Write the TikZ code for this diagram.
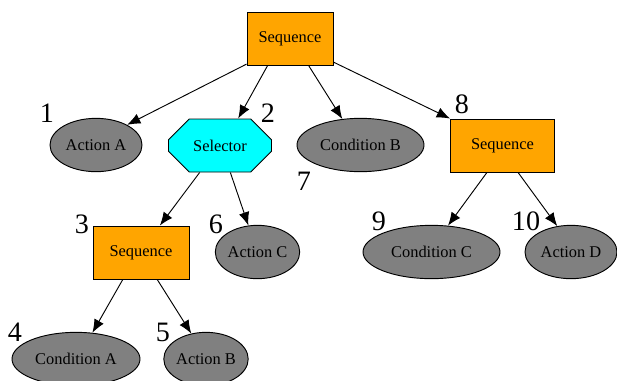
\documentclass[tikz,border=0pt]{standalone}
\usepackage{fontspec}
\setmainfont{Liberation Serif}
\usepackage{tikz}
\usetikzlibrary{arrows.meta, shapes.geometric, shapes.misc}

\definecolor{seqorange}{HTML}{FFA500}
\definecolor{selcyan}{HTML}{00FFFF}
\definecolor{leafgray}{HTML}{808080}

\tikzset{
    seqbox/.style={draw, fill=seqorange, rectangle, inner sep=0pt,
        minimum height=1.59cm, font=\fontsize{14}{16}\selectfont},
    selbox/.style={draw, fill=selcyan, chamfered rectangle, inner sep=0pt,
        chamfered rectangle xsep=0.9cm, chamfered rectangle ysep=0.45cm,
        minimum width=3.09cm, minimum height=1.59cm,
        font=\fontsize{14}{16}\selectfont},
    leaf/.style={draw, fill=leafgray, ellipse, inner sep=0pt,
        minimum height=1.6cm, font=\fontsize{14}{16}\selectfont},
    num/.style={font=\fontsize{24}{26}\selectfont},
}

\begin{document}
\begin{tikzpicture}[>={Latex[length=4mm,width=3.2mm]}, x=0.03cm, y=-0.03cm, line width=0.8pt]
    \useasboundingbox (0,0) rectangle (617,380);

    % 1. Các nút
    \node[seqbox, minimum width=2.58cm] (root) at (290,39) {Sequence};
    \node[leaf, minimum width=2.76cm] (actA) at (96,145) {Action A};
    \node[selbox] (sel) at (220,145.5) {Selector};
    \node[leaf, minimum width=3.81cm] (condB) at (360.5,145) {Condition B};
    \node[seqbox, minimum width=3.12cm] (seqR) at (502.5,145.5) {Sequence};
    \node[seqbox, minimum width=2.88cm] (seqL) at (141,252.5) {Sequence};
    \node[leaf, minimum width=2.49cm] (actC) at (257.5,252) {Action C};
    \node[leaf, minimum width=4.11cm] (condC) at (431.5,252) {Condition C};
    \node[leaf, minimum width=2.76cm] (actD) at (571,252) {Action D};
    \node[leaf, minimum width=3.84cm] (condA) at (76,359) {Condition A};
    \node[leaf, minimum width=2.46cm] (actB) at (206,359) {Action B};

    % 2. Số thứ tự
    \node[num] (n1) at (47,113) {1};
    \node[num] (n2) at (268,113) {2};
    \node[num] (n3) at (82,224) {3};
    \node[num] (n4) at (15,332) {4};
    \node[num] (n5) at (163,332) {5};
    \node[num] (n6) at (216,224) {6};
    \node[num] (n7) at (304,181) {7};
    \node[num] (n8) at (462,104) {8};
    \node[num] (n9) at (379,221) {9};
    \node[num] (n10) at (526,221) {10};

    % 3. Các cạnh
    \draw[->] (root.210) -- (actA.33);
    \draw[->] (root.230) -- (sel.56);
    \draw[->] (root.305) -- (condB.125);
    \draw[->] (root.332) -- (seqR.north west);
    \draw[->] (sel.233) -- (seqL.55);
    \draw[->] (sel.291) -- (actC.109);
    \draw[->] (seqL.236) -- (condA.58);
    \draw[->] (seqL.301) -- (actB.120);
    \draw[->] (seqR.240) -- (condC.58);
    \draw[->] (seqR.300) -- (actD.118);
\end{tikzpicture}
\end{document}
